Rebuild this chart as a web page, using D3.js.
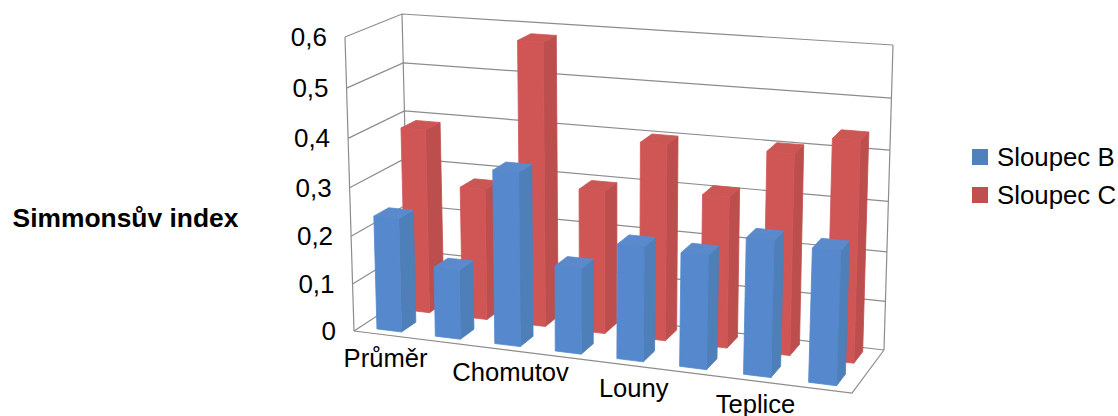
<!DOCTYPE html>
<html><head><meta charset="utf-8">
<script src="https://cdnjs.cloudflare.com/ajax/libs/d3/7.8.5/d3.min.js"></script>
<style>html,body{margin:0;padding:0;background:#fff}svg{display:block}text{font-family:"Liberation Sans",Arial,sans-serif;fill:#000}</style>
</head><body><svg id="c" width="1118" height="416"></svg>
<script>
const categoryLabels = ["Průměr","","Chomutov","","Louny","","Teplice",""];
const seriesNames = ["Sloupec B","Sloupec C"];
const sloupecB = [0.238,0.145,0.355,0.175,0.232,0.228,0.270,0.263];
const sloupecC = [0.388,0.276,0.582,0.295,0.400,0.307,0.403,0.438];
const yTicks = [0,0.1,0.2,0.3,0.4,0.5,0.6];
const yTickLabels = ["0","0,1","0,2","0,3","0,4","0,5","0,6"];
const axisTitle = "Simmonsův index";
const seriesColors = [
  {legend:"#4f81bd",front:"#5588cc",side:"#4e7fb9",top:"#5a8acb"},
  {legend:"#c0504d",front:"#d05555",side:"#bc4f4d",top:"#cc5654"}
];

// Box corners on screen: [u][v][d] = left/right, bottom/top, front/back
const box = {
  "000":[354,331],"001":[409,295],"010":[345,37],"011":[402,14],
  "100":[852,393],"101":[884,350],"110":[863,74],"111":[893,45]
};
function proj(u,v,d){
  let sx=0,sy=0,sw=0;
  for(const a of [0,1])for(const b of [0,1])for(const c of [0,1]){
    const B=(a?u:1-u)*(b?v:1-v)*(c?d:1-d);
    const w=(a?0.93:1)*(b?0.95:1);
    const p=box[""+a+b+c];
    sx+=B*w*p[0];sy+=B*w*p[1];sw+=B*w;
  }
  return [sx/sw,sy/sw];
}
const xBand=d3.scaleBand().domain(d3.range(categoryLabels.length)).range([0,1]).paddingInner(0.576).paddingOuter(0.288);
const yScale=d3.scaleLinear().domain([0,0.6]).range([0,1]);
const dBand=d3.scaleBand().domain(seriesNames).range([0.115,0.91]).paddingInner(0.49);
const line=d3.line();
const svg=d3.select("#c");

// walls
const grid=svg.append("g").attr("fill","none").attr("stroke","#8c8c8c").attr("stroke-width",1.2);
yTicks.forEach(t=>{
  const v=yScale(t);
  grid.append("path").attr("d",line([proj(0,v,0),proj(0,v,1),proj(1,v,1)]));
});
grid.append("path").attr("d",line([proj(0,0,1),proj(0,1,1)]));
grid.append("path").attr("d",line([proj(1,0,1),proj(1,1,1)]));
grid.append("path").attr("d",line([proj(0,0,0),proj(0,1,0)]));
grid.append("path").attr("d",line([proj(0,0,0),proj(1,0,0),proj(1,0,1)]));

// bars, back series first
[[sloupecC,1],[sloupecB,0]].forEach(([vals,si])=>{
  const col=seriesColors[si];
  const d0=dBand(seriesNames[si]),d1=d0+dBand.bandwidth();
  const g=svg.append("g").attr("stroke-linejoin","round").attr("stroke-width",0.8);
  vals.forEach((val,i)=>{
    const u0=xBand(i),u1=u0+xBand.bandwidth(),v=yScale(val);
    const faces=[
      [col.side,[proj(u1,0,d0),proj(u1,v,d0),proj(u1,v,d1),proj(u1,0,d1)]],
      [col.top,[proj(u0,v,d0),proj(u1,v,d0),proj(u1,v,d1),proj(u0,v,d1)]],
      [col.front,[proj(u0,0,d0),proj(u0,v,d0),proj(u1,v,d0),proj(u1,0,d0)]]
    ];
    faces.forEach(([c,pts])=>g.append("path").attr("d",line(pts)+"Z").attr("fill",c).attr("stroke",c));
  });
});

// value labels
yTicks.forEach((t,i)=>{
  const p=proj(0,yScale(t),0);
  svg.append("text").attr("x",p[0]-18).attr("y",p[1]+9).attr("text-anchor","end").attr("font-size",26).text(yTickLabels[i]);
});
// category labels: interior labels sit slightly further right in the source layout
const labelNudge=d3.scalePoint().domain(categoryLabels.filter(Boolean)).range([0,1]);
categoryLabels.forEach((c,i)=>{
  if(!c)return;
  const p=proj(xBand(i)+xBand.bandwidth()/2,0,0);
  const t=labelNudge(c);
  const dx=2.5+7*Math.sin(Math.PI*t);
  svg.append("text").attr("x",p[0]+dx).attr("y",p[1]+32).attr("text-anchor","middle").attr("font-size",25.6).text(c);
});
svg.append("text").attr("x",125.5).attr("y",227).attr("text-anchor","middle").attr("font-size",26.4).attr("font-weight","bold").text(axisTitle);
// legend
const legY=d3.scalePoint().domain(seriesNames).range([157,195]);
seriesNames.forEach((s,i)=>{
  svg.append("rect").attr("x",972).attr("y",legY(s)-8).attr("width",16).attr("height",16).attr("fill",seriesColors[i].legend);
  svg.append("text").attr("x",997).attr("y",legY(s)+9).attr("font-size",25.8).text(s);
});
</script></body></html>
